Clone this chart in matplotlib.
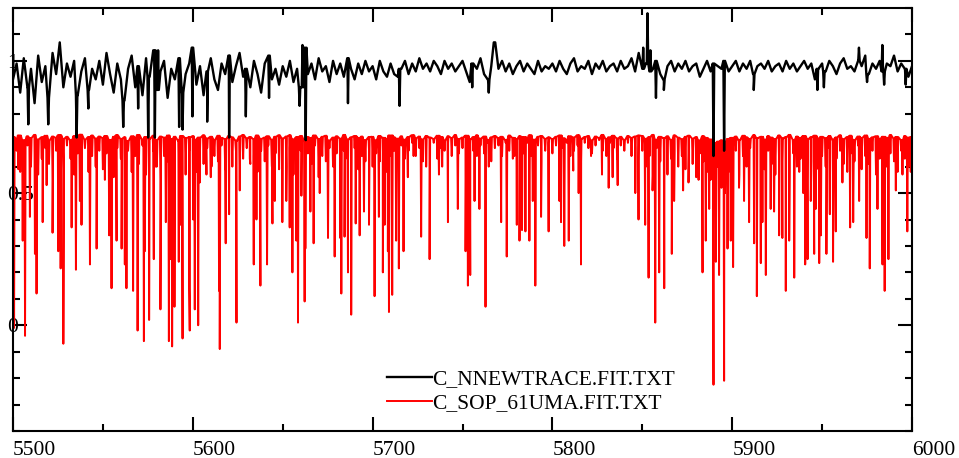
import numpy as np
import matplotlib
matplotlib.use("Agg")
import matplotlib.pyplot as plt
from matplotlib.ticker import MultipleLocator

# --- dados (comprimento de onda em Angstrom, fluxo normalizado) ---
wl_start = 5500.0
wl_step = 2.0

# traco preto (C_NNEWTRACE), amostrado a cada 2 A
black_flux = [
    0.93, 0.99, 0.88, 1.01, 0.90, 0.97, 0.84, 1.02, 0.92, 0.98, 0.86, 1.03, 0.95, 1.07, 0.90, 0.99, 0.94, 1.00, 0.87, 0.96, 1.01, 0.89, 0.97, 0.93, 1.00,
    0.91, 1.03, 0.95, 0.88, 0.99, 0.93, 0.85, 0.97, 1.02, 0.90, 0.98, 0.87, 1.01, 0.94, 1.04, 0.89, 0.96, 1.00, 0.86, 0.97, 0.93, 1.01, 0.88, 0.95, 0.99,
    1.05, 0.91, 0.98, 0.87, 0.96, 1.01, 0.93, 0.89, 0.99, 0.95, 1.02, 0.92, 0.98, 1.03, 0.94, 0.97, 0.90, 1.00, 0.95, 0.88, 0.99, 1.02, 0.93, 0.97, 0.91,
    0.98, 0.94, 1.00, 0.92, 0.97, 0.90, 1.05, 0.95, 0.99, 0.93, 1.01, 0.96, 0.98, 0.92, 1.00, 0.95, 0.99, 0.94, 1.01, 0.97, 0.93, 0.99, 0.95, 1.00, 0.96,
    0.98, 0.93, 1.00, 0.96, 0.94, 0.99, 0.95, 0.94, 0.97, 1.00, 0.95, 0.99, 0.96, 1.01, 0.97, 0.99, 0.96, 1.00, 0.98, 0.95, 1.00, 0.97, 0.99, 0.96, 0.98,
    1.00, 0.96, 0.92, 0.99, 0.97, 1.01, 0.95, 0.93, 0.98, 1.07, 0.97, 1.00, 0.96, 0.99, 0.95, 0.98, 1.00, 0.96, 0.99, 0.97, 0.95, 1.00, 0.96, 0.98, 0.97,
    0.99, 0.96, 1.00, 0.97, 0.95, 0.99, 1.01, 0.96, 0.98, 0.97, 1.00, 0.95, 0.99, 0.97, 1.00, 0.96, 0.98, 0.99, 0.96, 1.00, 0.97, 0.98, 1.01, 0.96, 1.03,
    0.97, 0.99, 0.96, 0.97, 1.00, 0.95, 0.93, 0.98, 1.00, 0.96, 0.99, 0.97, 1.00, 0.96, 0.98, 0.99, 0.94, 0.97, 1.00, 0.96, 0.99, 0.98, 0.97, 1.00, 0.96,
    0.98, 1.00, 0.96, 0.99, 0.97, 1.00, 0.95, 0.98, 0.99, 0.97, 1.00, 0.96, 0.98, 0.99, 0.96, 1.00, 0.97, 0.99, 0.96, 0.98, 1.00, 0.97, 0.99, 0.93, 0.97,
    0.99, 0.96, 1.00, 0.98, 0.95, 0.99, 1.01, 0.97, 0.98, 0.96, 1.00, 0.98, 1.02, 0.95, 0.99, 0.97, 1.00, 0.96, 0.99, 0.98, 1.02, 0.96, 0.99, 0.97, 0.94,
    0.98,
]

# picos e vales estreitos do traco preto
black_feat_wl = [5508.5, 5519.6, 5535.4, 5541.9, 5561.3, 5569.6, 5575.2, 5578.9, 5580.7, 5592.4,
                 5594.3, 5599.8, 5608.0, 5620.2, 5629.5, 5642.4, 5659.4, 5661.0, 5662.8, 5686.3,
                 5715.0, 5755.4, 5764.6, 5767.8, 5850.5, 5852.9, 5854.5, 5857.6, 5862.0,
                 5889.6, 5895.5, 5912.0, 5947.4, 5951.0, 5970.5,
                 5975.0, 5983.5, 5984.5, 5996.5]
black_feat_flux = [0.76, 0.76, 0.71, 0.82, 0.75, 0.82, 0.71, 0.71, 1.04, 0.75,
                   0.74, 0.79, 0.77, 0.71, 0.79, 0.86, 0.83, 1.06, 0.70, 0.84,
                   0.83, 0.90, 0.88, 1.07, 1.05, 1.18, 1.04, 0.86, 0.89,
                   0.64, 0.66, 0.89, 0.89, 0.90, 1.05,
                   0.92, 1.06, 0.91, 0.91]

# topo do continuo vermelho, a cada 2 A
red_top_flux = [
    0.712, 0.705, 0.718, 0.700, 0.715, 0.708, 0.720, 0.703, 0.711, 0.717, 0.698, 0.714, 0.709, 0.719, 0.704, 0.713, 0.700, 0.716, 0.707, 0.721, 0.702, 0.712, 0.718, 0.706, 0.714,
    0.708, 0.716, 0.701, 0.713, 0.719, 0.705, 0.711, 0.697, 0.715, 0.709, 0.720, 0.703, 0.712, 0.706, 0.717, 0.700, 0.714, 0.710, 0.718, 0.704, 0.713, 0.699, 0.716, 0.708, 0.711,
    0.715, 0.702, 0.710, 0.719, 0.706, 0.713, 0.700, 0.717, 0.709, 0.704, 0.716, 0.711, 0.698, 0.714, 0.720, 0.707, 0.712, 0.703, 0.718, 0.705, 0.710, 0.715, 0.701, 0.713, 0.719,
    0.706, 0.714, 0.719, 0.703, 0.711, 0.716, 0.700, 0.712, 0.708, 0.718, 0.704, 0.713, 0.717, 0.699, 0.710, 0.715, 0.706, 0.720, 0.702, 0.711, 0.716, 0.709, 0.714, 0.700, 0.712,
    0.713, 0.700, 0.716, 0.709, 0.704, 0.718, 0.711, 0.706, 0.715, 0.702, 0.712, 0.719, 0.707, 0.714, 0.703, 0.716, 0.710, 0.705, 0.717, 0.712, 0.698, 0.715, 0.708, 0.720, 0.704,
    0.710, 0.717, 0.703, 0.712, 0.719, 0.706, 0.714, 0.701, 0.711, 0.716, 0.708, 0.713, 0.700, 0.718, 0.709, 0.704, 0.715, 0.712, 0.707, 0.719, 0.702, 0.713, 0.716, 0.705, 0.711,
    0.704, 0.713, 0.718, 0.707, 0.701, 0.715, 0.710, 0.719, 0.705, 0.712, 0.716, 0.699, 0.714, 0.708, 0.720, 0.703, 0.711, 0.717, 0.706, 0.713, 0.700, 0.716, 0.709, 0.714, 0.718,
    0.716, 0.705, 0.711, 0.720, 0.702, 0.713, 0.708, 0.715, 0.700, 0.718, 0.710, 0.704, 0.713, 0.717, 0.706, 0.712, 0.699, 0.715, 0.709, 0.703, 0.690, 0.695, 0.700, 0.692, 0.705,
    0.709, 0.714, 0.700, 0.717, 0.711, 0.705, 0.719, 0.708, 0.713, 0.702, 0.716, 0.710, 0.704, 0.718, 0.707, 0.712, 0.720, 0.701, 0.714, 0.709, 0.716, 0.703, 0.711, 0.717, 0.706,
    0.713, 0.707, 0.716, 0.702, 0.710, 0.719, 0.704, 0.712, 0.717, 0.700, 0.714, 0.708, 0.718, 0.705, 0.711, 0.715, 0.703, 0.713, 0.709, 0.720, 0.706, 0.712, 0.701, 0.716, 0.710,
    0.712,
]

# linhas fracas do espectro vermelho (C_SOP_61UMA), uma a cada 2 A
red_weak_flux = [
    0.62, 0.66, 0.58, 0.64, 0.68, 0.60, 0.65, 0.57, 0.63, 0.67, 0.61, 0.55, 0.66, 0.62, 0.59, 0.68, 0.63, 0.57, 0.65, 0.61, 0.67, 0.58, 0.64, 0.60, 0.66,
    0.59, 0.65, 0.62, 0.56, 0.67, 0.63, 0.60, 0.66, 0.58, 0.64, 0.61, 0.68, 0.57, 0.63, 0.66, 0.60, 0.55, 0.64, 0.62, 0.67, 0.59, 0.65, 0.61, 0.57, 0.66,
    0.63, 0.58, 0.66, 0.61, 0.67, 0.56, 0.64, 0.62, 0.68, 0.59, 0.65, 0.60, 0.66, 0.57, 0.63, 0.67, 0.61, 0.64, 0.58, 0.66, 0.62, 0.68, 0.60, 0.65, 0.59,
    0.64, 0.60, 0.67, 0.57, 0.63, 0.66, 0.59, 0.65, 0.61, 0.68, 0.56, 0.64, 0.62, 0.67, 0.60, 0.65, 0.58, 0.66, 0.63, 0.61, 0.67, 0.59, 0.64, 0.62, 0.66,
    0.60, 0.65, 0.62, 0.67, 0.58, 0.64, 0.66, 0.61, 0.68, 0.63, 0.66, 0.69, 0.64, 0.67, 0.62, 0.68, 0.65, 0.69, 0.63, 0.67, 0.66, 0.69, 0.64, 0.68, 0.65,
    0.67, 0.63, 0.69, 0.66, 0.64, 0.68, 0.65, 0.69, 0.62, 0.67, 0.68, 0.64, 0.69, 0.66, 0.63, 0.68, 0.67, 0.65, 0.69, 0.64, 0.67, 0.68, 0.62, 0.66, 0.69,
    0.65, 0.68, 0.63, 0.67, 0.69, 0.64, 0.66, 0.68, 0.62, 0.69, 0.67, 0.65, 0.68, 0.70, 0.66, 0.64, 0.69, 0.67, 0.63, 0.68, 0.66, 0.69, 0.64, 0.67, 0.62,
    0.66, 0.60, 0.64, 0.58, 0.67, 0.62, 0.65, 0.57, 0.63, 0.66, 0.60, 0.64, 0.59, 0.67, 0.61, 0.56, 0.65, 0.62, 0.58, 0.55, 0.50, 0.60, 0.52, 0.50, 0.58,
    0.61, 0.66, 0.57, 0.64, 0.60, 0.67, 0.56, 0.63, 0.65, 0.59, 0.66, 0.61, 0.57, 0.64, 0.62, 0.68, 0.58, 0.65, 0.60, 0.63, 0.67, 0.55, 0.62, 0.66, 0.59,
    0.64, 0.60, 0.67, 0.57, 0.63, 0.66, 0.61, 0.58, 0.65, 0.62, 0.68, 0.59, 0.64, 0.61, 0.66, 0.57, 0.63, 0.67, 0.60, 0.65, 0.62, 0.58, 0.66, 0.63, 0.60,
    0.66,
]

# linhas de absorcao fortes do espectro vermelho (centro, fluxo no fundo)
red_lines_wl = [
    5500.6, 5503.0, 5505.4, 5506.7, 5509.4, 5512.2, 5513.1, 5516.5, 5518.7, 5522.0,
    5525.2, 5526.5, 5528.0, 5532.6, 5535.0, 5537.2, 5538.1, 5542.8, 5546.5, 5551.1,
    5553.5, 5554.8, 5557.6, 5560.4, 5562.2, 5563.1, 5566.8, 5569.3, 5572.8, 5573.3,
    5575.7, 5578.3, 5579.4, 5582.0, 5585.0, 5586.7, 5587.6, 5588.5, 5589.8, 5592.2,
    5593.2, 5594.3, 5598.0, 5598.3, 5600.2, 5601.1, 5603.0, 5603.9, 5607.6, 5610.4,
    5614.6, 5615.0, 5618.3, 5620.2, 5624.3, 5626.1, 5631.7, 5633.9, 5635.4, 5637.6,
    5641.3, 5644.3, 5645.6, 5649.8, 5652.0, 5653.9, 5655.4, 5657.6, 5658.5, 5660.4,
    5662.2, 5662.6, 5665.4, 5667.2, 5670.6, 5675.2, 5678.9, 5682.0, 5682.6, 5684.4,
    5686.3, 5688.1, 5690.6, 5692.8, 5695.2, 5698.0, 5701.1, 5703.5, 5705.7, 5706.7,
    5708.5, 5709.1, 5710.9, 5713.1, 5714.6, 5717.2, 5719.6, 5722.8, 5727.0, 5729.8,
    5731.7, 5736.9, 5738.7, 5741.9, 5747.4, 5751.7, 5753.0, 5754.3, 5756.7, 5759.4,
    5762.8, 5764.6, 5771.5, 5774.6, 5778.9, 5780.2, 5781.7, 5783.1, 5785.0, 5787.2,
    5789.1, 5790.5, 5793.7, 5797.9, 5803.9, 5804.8, 5806.6, 5809.1, 5811.6, 5814.6,
    5815.9, 5821.5, 5827.6, 5831.3, 5833.5, 5836.3, 5846.1, 5847.9, 5851.6, 5853.5,
    5855.7, 5857.2, 5859.4, 5862.2, 5866.4, 5867.7, 5872.7, 5875.7, 5881.3, 5883.5,
    5885.3, 5887.2, 5889.6, 5890.9, 5892.7, 5895.5, 5897.4, 5899.2, 5900.5, 5903.8,
    5906.6, 5909.4, 5912.2, 5913.7, 5915.9, 5916.8, 5918.7, 5921.4, 5923.3, 5926.1,
    5927.9, 5929.8, 5931.7, 5934.5, 5937.3, 5939.5, 5940.6, 5941.9, 5943.7, 5945.6,
    5946.5, 5948.4, 5949.3, 5952.4, 5954.3, 5956.1, 5957.6, 5961.3, 5965.6, 5967.3,
    5970.6, 5974.7, 5976.5, 5980.8, 5983.6, 5984.8, 5986.9, 5991.0, 5994.7, 5997.4,
    5999.3,
]
red_lines_flux = [
    -0.01, 0.59, 0.32, -0.04, 0.41, 0.27, 0.12, 0.39, 0.53, 0.35,
    0.28, 0.215, -0.07, 0.37, 0.21, 0.47, 0.38, 0.23, 0.29, 0.55,
    0.34, 0.14, 0.32, 0.29, 0.23, 0.14, 0.13, -0.02, -0.06, 0.28,
    0.02, 0.25, 0.60, 0.06, 0.39, -0.06, 0.25, -0.08, 0.07, 0.24,
    0.38, -0.05, 0.14, -0.02, 0.40, 0.06, 0.00, 0.54, 0.57, 0.60,
    0.13, -0.09, 0.31, 0.42, 0.01, 0.51, 0.63, 0.23, 0.40, 0.15,
    0.23, 0.385, 0.47, 0.39, 0.47, 0.37, 0.20, 0.32, 0.01, 0.49,
    0.09, 0.29, 0.43, 0.31, 0.50, 0.33, 0.26, 0.33, 0.12, 0.335,
    0.20, 0.04, 0.385, 0.34, 0.43, 0.38, 0.11, 0.41, 0.20, 0.38,
    0.28, 0.05, 0.115, 0.32, 0.215, 0.28, 0.56, 0.64, 0.335, 0.60,
    0.25, 0.57, 0.60, 0.39, 0.44, 0.28, 0.15, 0.19, 0.47, 0.44,
    0.07, 0.60, 0.39, 0.26, 0.64, 0.38, 0.32, 0.36, 0.355, 0.32,
    0.47, 0.15, 0.41, 0.355, 0.47, 0.39, 0.30, 0.32, 0.585, 0.50,
    0.23, 0.64, 0.57, 0.52, 0.56, 0.53, 0.50, 0.40, 0.38, 0.18,
    0.51, 0.01, 0.20, 0.14, 0.27, 0.47, 0.51, 0.54, 0.55, 0.20,
    0.32, 0.44, -0.225, 0.24, 0.19, -0.21, 0.29, 0.32, 0.22, 0.52,
    0.47, 0.39, 0.31, 0.11, 0.235, 0.39, 0.19, 0.44, 0.43, 0.34,
    0.33, 0.13, 0.32, 0.18, 0.58, 0.50, 0.23, 0.25, 0.47, 0.27,
    0.44, 0.235, 0.34, 0.27, 0.42, 0.24, 0.355, 0.54, 0.37, 0.39,
    0.47, 0.33, 0.215, 0.44, 0.23, 0.13, 0.25, 0.51, 0.57, 0.355,
    0.58,
]


def grid_wl(n):
    return wl_start + wl_step * np.arange(n)


def nearest_grid(values, wl):
    """ Valor da grade de 2 A mais proximo de cada comprimento de onda """
    values = np.asarray(values)
    idx = np.clip(np.rint((np.asarray(wl) - wl_start) / wl_step).astype(int), 0, len(values) - 1)
    return values[idx]


def spikes(wl, flux, flank, half_width):
    """ Cada linha vira um pico estreito: borda, fundo, borda """
    wl = np.asarray(wl, dtype=float)
    flux = np.asarray(flux, dtype=float)
    flank = np.broadcast_to(np.asarray(flank, dtype=float), wl.shape)
    x = np.concatenate([wl - half_width, wl, wl + half_width])
    y = np.concatenate([flank, flux, flank])
    return x, y


def sort_xy(parts):
    x = np.concatenate([p[0] for p in parts])
    y = np.concatenate([p[1] for p in parts])
    order = np.argsort(x, kind="stable")
    return x[order], y[order]


def plot_spectra():
    # preto: grade regular + feicoes estreitas
    black_x, black_y = sort_xy([
        (grid_wl(len(black_flux)), np.array(black_flux)),
        spikes(black_feat_wl, black_feat_flux, nearest_grid(black_flux, black_feat_wl), 0.4),
    ])

    # vermelho: linhas fracas na grade + linhas fortes, bordas no topo do continuo
    red_x, red_y = sort_xy([
        spikes(grid_wl(len(red_weak_flux)), red_weak_flux, red_top_flux, 0.35),
        spikes(red_lines_wl, red_lines_flux, nearest_grid(red_top_flux, red_lines_wl), 0.3),
    ])

    plt.rcParams['font.family'] = ['Liberation Serif', 'DejaVu Serif']

    fig = plt.figure(figsize=(9.59, 4.58), dpi=100)
    ax = fig.add_axes([13 / 959, 1 - 431 / 458, 899 / 959, 423 / 458])

    l_red, = ax.plot(red_x, red_y, color="#ff0000", linewidth=1.4)
    l_black, = ax.plot(black_x, black_y, color="black", linewidth=1.7)

    ax.set_xlim(5500, 6000)
    ax.set_ylim(-0.4, 1.2)

    ax.xaxis.set_major_locator(MultipleLocator(100))
    ax.xaxis.set_minor_locator(MultipleLocator(50))
    ax.yaxis.set_minor_locator(MultipleLocator(0.1))
    ax.set_yticks([0, 0.5, 1.0])
    ax.set_yticklabels(["0", "0.5", "1"])

    for s in ax.spines.values():
        s.set_linewidth(1.5)
    ax.tick_params(which="both", direction="in", top=True, right=True, width=1.5, labelsize=15.5)
    ax.tick_params(which="major", length=10)
    ax.tick_params(which="minor", length=5)
    ax.tick_params(axis="x", pad=7)
    ax.tick_params(axis="y", pad=4.3)
    for t in ax.get_xticklabels():
        t.set_horizontalalignment("left")
    for t in ax.get_yticklabels():
        t.set_horizontalalignment("left")

    ax.legend([l_black, l_red], ["C_NNEWTRACE.FIT.TXT", "C_SOP_61UMA.FIT.TXT"],
              loc="upper left", bbox_to_anchor=((387 - 13) / 899, (431 - 369) / 423),
              frameon=False, fontsize=15.5, handlelength=2.1, handletextpad=0.0,
              borderpad=0.0, borderaxespad=0.0, labelspacing=0.2)

    fig.savefig("out.png", dpi=100)


if __name__ == '__main__':
    plot_spectra()
